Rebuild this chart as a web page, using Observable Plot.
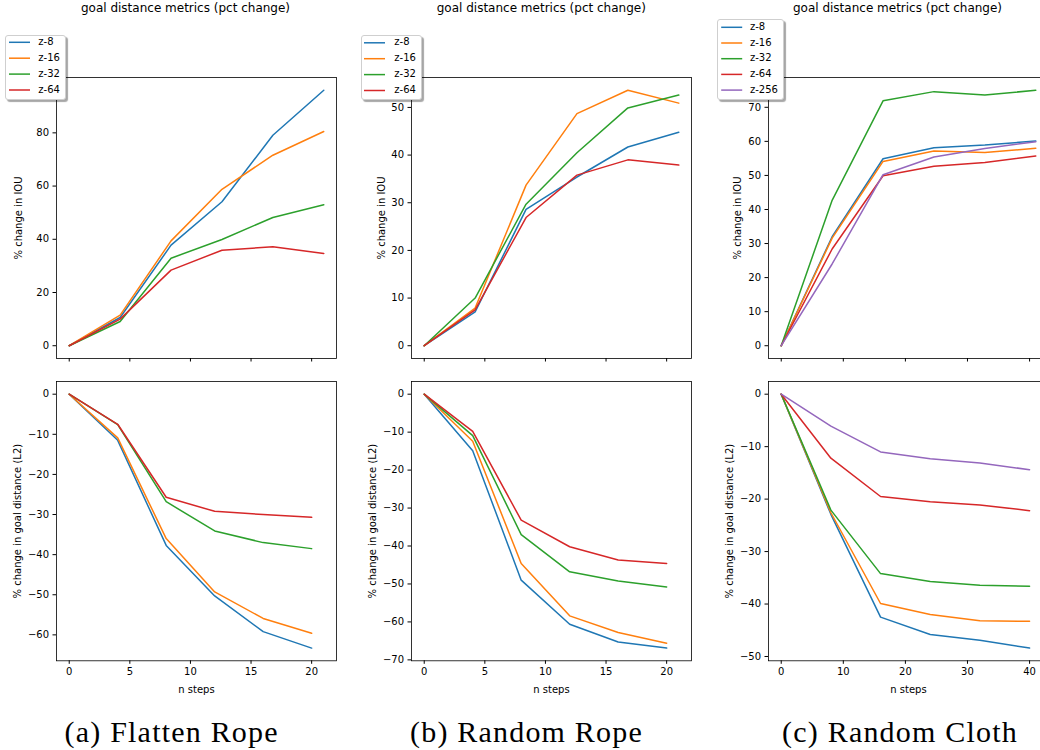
<!DOCTYPE html>
<html><head><meta charset="utf-8">
<script src="https://cdn.jsdelivr.net/npm/d3@7"></script>
<script src="https://cdn.jsdelivr.net/npm/@observablehq/plot@0.6"></script>
<style>
html,body{margin:0;padding:0;background:#fff;}
#root{position:relative;width:1040px;height:750px;overflow:hidden;font-family:"DejaVu Sans",sans-serif;color:#000;}
.panel{position:absolute;}
.title{position:absolute;font-size:12px;line-height:14px;white-space:nowrap;transform:translateX(-50%);}
.legend{position:absolute;box-sizing:border-box;background:#fff;border:1px solid #cfcfcf;border-radius:3px;box-shadow:2px 2px 1px rgba(0,0,0,0.35);z-index:5;}
.legend svg{position:absolute;left:0;top:0;overflow:visible;}
.legend .lt{position:absolute;font-size:10px;line-height:12px;white-space:nowrap;}
.caption{position:absolute;font-family:"Liberation Serif",serif;font-size:30px;line-height:34px;letter-spacing:1.2px;white-space:nowrap;transform:translateX(-50%);}
</style></head><body><div id="root"></div>
<script>
// ---- data ----
const seriesNames = ["z-8", "z-16", "z-32", "z-64", "z-256"];
const seriesColors = ["#1f77b4", "#ff7f0e", "#2ca02c", "#d62728", "#9467bd"];

const ropeStepsTop = [0, 4.2, 8.4, 12.6, 16.8, 21];
const ropeStepsBottom = [0, 4, 8, 12, 16, 20];
const clothStepsTop = [0, 8.2, 16.4, 24.6, 32.8, 41];
const clothStepsBottom = [0, 8, 16, 24, 32, 40];

const ropeTicks = [0, 5, 10, 15, 20];
const clothTicks = [0, 10, 20, 30, 40];

// (a) Flatten Rope
const flattenIou = [
  [0, 10.6, 37.8, 54.1, 79.1, 96.0],
  [0, 11.5, 39.4, 58.8, 71.6, 80.5],
  [0, 9.1, 32.9, 39.9, 48.2, 53.0],
  [0, 10.0, 28.4, 35.9, 37.2, 34.7]
];
const flattenL2 = [
  [0, -11.5, -37.7, -50.3, -59.2, -63.3],
  [0, -10.9, -36.0, -49.3, -55.9, -59.6],
  [0, -7.6, -26.8, -34.1, -37.0, -38.5],
  [0, -7.5, -25.7, -29.2, -30.0, -30.7]
];
// (b) Random Rope
const ropeIou = [
  [0, 7.1, 28.6, 35.4, 41.7, 44.8],
  [0, 7.9, 33.7, 48.7, 53.6, 50.9],
  [0, 10.0, 29.7, 40.5, 49.9, 52.6],
  [0, 7.5, 26.9, 35.8, 39.0, 37.9]
];
const ropeL2 = [
  [0, -14.9, -49.0, -60.6, -65.3, -66.9],
  [0, -12.4, -44.6, -58.4, -62.8, -65.6],
  [0, -10.9, -37.0, -46.8, -49.2, -50.8],
  [0, -9.8, -33.2, -40.2, -43.7, -44.6]
];
// (c) Random Cloth
const clothIou = [
  [0, 32.0, 54.9, 58.1, 58.9, 60.1],
  [0, 31.6, 54.1, 57.2, 56.7, 58.0],
  [0, 42.7, 71.9, 74.6, 73.6, 75.0],
  [0, 28.4, 49.9, 52.7, 53.8, 55.7],
  [0, 24.0, 50.2, 55.4, 57.9, 59.9]
];
const clothL2 = [
  [0, -22.9, -42.5, -45.8, -46.9, -48.4],
  [0, -22.6, -39.9, -42.0, -43.2, -43.3],
  [0, -22.1, -34.2, -35.7, -36.4, -36.6],
  [0, -12.2, -19.5, -20.5, -21.1, -22.2],
  [0, -6.1, -11.0, -12.3, -13.1, -14.4]
];

const iouTicksA = [0, 20, 40, 60, 80];
const l2TicksA = [0, -10, -20, -30, -40, -50, -60];
const iouTicksB = [0, 10, 20, 30, 40, 50];
const l2TicksB = [0, -10, -20, -30, -40, -50, -60, -70];
const iouTicksC = [0, 10, 20, 30, 40, 50, 60, 70];
const l2TicksC = [0, -10, -20, -30, -40, -50];

const titleText = "goal distance metrics (pct change)";
const captions = ["(a) Flatten Rope", "(b) Random Rope", "(c) Random Cloth"];

// ---- helpers ----
const root = document.getElementById("root");

function tidy(steps, rows) {
  const out = [];
  rows.forEach((r, i) => r.forEach((v, j) => out.push({x: steps[j], y: v, s: seriesNames[i]})));
  return out;
}
function mplDomain(vals) {
  const lo = d3.min(vals), hi = d3.max(vals), m = (hi - lo) * 0.05;
  return [lo - m, hi + m];
}

const mL = 60, mR = 8, mT = 6, mB = 40;
const FW = 280;

function panel(o) {
  const data = tidy(o.steps, o.rows);
  const H = o.fh + mT + mB;
  const svg = Plot.plot({
    width: FW + mL + mR, height: H,
    marginLeft: mL, marginRight: mR, marginTop: mT, marginBottom: mB,
    style: {fontFamily: "DejaVu Sans", fontSize: "10px", color: "#000", background: "transparent", overflow: "visible"},
    x: {domain: o.xDomain, ticks: o.xTicks, tickSize: 3.5, tickPadding: 4,
        tickFormat: o.xLabels ? d3.format("d") : () => "",
        label: o.xLabels ? "n steps" : null, labelAnchor: "center", labelOffset: 32, labelArrow: false},
    y: {domain: mplDomain(o.rows.flat()), ticks: o.yTicks, tickSize: 3.5, tickPadding: 4,
        tickFormat: d3.format("d"), label: o.yLabel, labelAnchor: "center", labelOffset: o.yLabelOffset, labelArrow: false},
    color: {domain: seriesNames, range: seriesColors},
    marks: [
      Plot.line(data, {x: "x", y: "y", z: "s", stroke: "s", strokeWidth: 1.5}),
      Plot.frame({stroke: "#000", strokeWidth: 0.8})
    ]
  });
  svg.classList.add("panel");
  svg.style.left = (o.fl - mL) + "px";
  svg.style.top = (o.ft - mT) + "px";
  root.appendChild(svg);
}

const NS = "http://www.w3.org/2000/svg";
function legend(o) {
  const div = document.createElement("div");
  div.className = "legend";
  Object.assign(div.style, {left: o.left + "px", top: o.top + "px", width: o.w + "px", height: o.h + "px"});
  const s = document.createElementNS(NS, "svg");
  s.setAttribute("width", o.w);
  s.setAttribute("height", o.h);
  for (let i = 0; i < o.n; i++) {
    const cy = o.row0 + i * o.gap - o.top - 1;
    const ln = document.createElementNS(NS, "line");
    const x0 = o.lineX - o.left - 1;
    ln.setAttribute("x1", x0);
    ln.setAttribute("x2", x0 + 21);
    ln.setAttribute("y1", cy);
    ln.setAttribute("y2", cy);
    ln.setAttribute("stroke", seriesColors[i]);
    ln.setAttribute("stroke-width", 1.5);
    s.appendChild(ln);
    const t = document.createElement("div");
    t.className = "lt";
    t.textContent = seriesNames[i];
    Object.assign(t.style, {left: (o.textX - o.left - 1) + "px", top: (cy - 6.5) + "px"});
    div.appendChild(t);
  }
  div.appendChild(s);
  root.appendChild(div);
}

// ---- layout ----
const ropeX = mplDomain(ropeStepsTop);
const clothX = mplDomain(clothStepsTop);
const topT = 77.3, topH = 281, botT = 380.7, botH = 279.3;

panel({steps: ropeStepsTop, rows: flattenIou, xDomain: ropeX, xTicks: ropeTicks, xLabels: false, yTicks: iouTicksA, yLabel: "% change in IOU", yLabelOffset: 42, fl: 55.7, ft: topT, fh: topH});
panel({steps: ropeStepsBottom, rows: flattenL2, xDomain: ropeX, xTicks: ropeTicks, xLabels: true, yTicks: l2TicksA, yLabel: "% change in goal distance (L2)", yLabelOffset: 43, fl: 55.7, ft: botT, fh: botH});
panel({steps: ropeStepsTop, rows: ropeIou, xDomain: ropeX, xTicks: ropeTicks, xLabels: false, yTicks: iouTicksB, yLabel: "% change in IOU", yLabelOffset: 33.5, fl: 411.3, ft: topT, fh: topH});
panel({steps: ropeStepsBottom, rows: ropeL2, xDomain: ropeX, xTicks: ropeTicks, xLabels: true, yTicks: l2TicksB, yLabel: "% change in goal distance (L2)", yLabelOffset: 42.5, fl: 411.3, ft: botT, fh: botH});
panel({steps: clothStepsTop, rows: clothIou, xDomain: clothX, xTicks: clothTicks, xLabels: false, yTicks: iouTicksC, yLabel: "% change in IOU", yLabelOffset: 35, fl: 767.7, ft: topT, fh: topH});
panel({steps: clothStepsBottom, rows: clothL2, xDomain: clothX, xTicks: clothTicks, xLabels: true, yTicks: l2TicksC, yLabel: "% change in goal distance (L2)", yLabelOffset: 43, fl: 767.7, ft: botT, fh: botH});

// titles
[185.5, 541.3, 897.5].forEach(cx => {
  const d = document.createElement("div");
  d.className = "title";
  d.textContent = titleText;
  Object.assign(d.style, {left: cx + "px", top: "1.4px"});
  root.appendChild(d);
});

// legends
legend({left: 4.5, top: 35, w: 61.5, h: 64.5, n: 4, row0: 42.3, gap: 15.9, lineX: 8.5, textX: 38.3});
legend({left: 361, top: 34.5, w: 60.5, h: 65.5, n: 4, row0: 42.3, gap: 15.9, lineX: 364, textX: 394.3});
legend({left: 716.5, top: 19, w: 67.5, h: 81, n: 5, row0: 27.3, gap: 15.7, lineX: 720.7, textX: 750});

// captions
[171.7, 526.5, 900].forEach((cx, i) => {
  const d = document.createElement("div");
  d.className = "caption";
  d.textContent = captions[i];
  Object.assign(d.style, {left: cx + "px", top: "714.6px"});
  root.appendChild(d);
});
</script></body></html>
